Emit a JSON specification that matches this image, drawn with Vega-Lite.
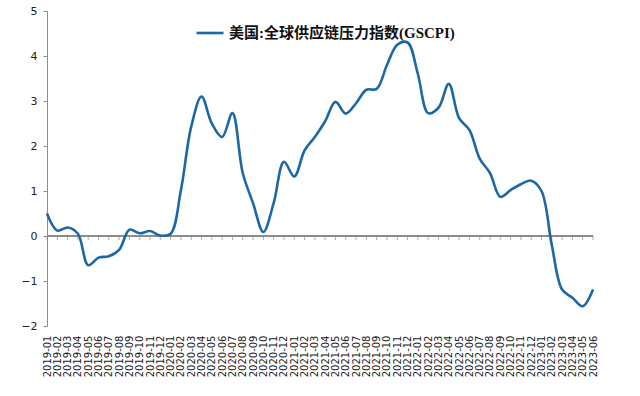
{
  "$schema": "https://vega.github.io/schema/vega-lite/v6.json",
  "width": 546,
  "height": 315,
  "autosize": "none",
  "padding": {"left": 47, "top": 11, "right": 47, "bottom": 70},
  "background": "white",
  "config": {"view": {"stroke": null}, "font": "DejaVu Sans"},
  "data": {
    "values": [
      {"month": "2019-01", "value": 0.5},
      {"month": "2019-02", "value": 0.12},
      {"month": "2019-03", "value": 0.19},
      {"month": "2019-04", "value": 0.05},
      {"month": "2019-05", "value": -0.65},
      {"month": "2019-06", "value": -0.48},
      {"month": "2019-07", "value": -0.45},
      {"month": "2019-08", "value": -0.31},
      {"month": "2019-09", "value": 0.14},
      {"month": "2019-10", "value": 0.06},
      {"month": "2019-11", "value": 0.11},
      {"month": "2019-12", "value": 0.01},
      {"month": "2020-01", "value": 0.05},
      {"month": "2020-02", "value": 1.02},
      {"month": "2020-03", "value": 2.43},
      {"month": "2020-04", "value": 3.1},
      {"month": "2020-05", "value": 2.5},
      {"month": "2020-06", "value": 2.2},
      {"month": "2020-07", "value": 2.73},
      {"month": "2020-08", "value": 1.4},
      {"month": "2020-09", "value": 0.73},
      {"month": "2020-10", "value": 0.09},
      {"month": "2020-11", "value": 0.73},
      {"month": "2020-12", "value": 1.65},
      {"month": "2021-01", "value": 1.32},
      {"month": "2021-02", "value": 1.9},
      {"month": "2021-03", "value": 2.2},
      {"month": "2021-04", "value": 2.55},
      {"month": "2021-05", "value": 2.98},
      {"month": "2021-06", "value": 2.72},
      {"month": "2021-07", "value": 2.95},
      {"month": "2021-08", "value": 3.25},
      {"month": "2021-09", "value": 3.27},
      {"month": "2021-10", "value": 3.8},
      {"month": "2021-11", "value": 4.25},
      {"month": "2021-12", "value": 4.3},
      {"month": "2022-01", "value": 3.6},
      {"month": "2022-02", "value": 2.73},
      {"month": "2022-03", "value": 2.85},
      {"month": "2022-04", "value": 3.38},
      {"month": "2022-05", "value": 2.62},
      {"month": "2022-06", "value": 2.36},
      {"month": "2022-07", "value": 1.72},
      {"month": "2022-08", "value": 1.4},
      {"month": "2022-09", "value": 0.87},
      {"month": "2022-10", "value": 1.02},
      {"month": "2022-11", "value": 1.15},
      {"month": "2022-12", "value": 1.23},
      {"month": "2023-01", "value": 1.0},
      {"month": "2023-02", "value": -0.2},
      {"month": "2023-03", "value": -1.19},
      {"month": "2023-04", "value": -1.37},
      {"month": "2023-05", "value": -1.56},
      {"month": "2023-06", "value": -1.19}
    ]
  },
  "layer": [
    {
      "mark": {"type": "rule", "color": "#8c8c8c", "strokeWidth": 1},
      "encoding": {
        "y": {"datum": 0, "type": "quantitative", "scale": {"domain": [-2, 5], "nice": false, "zero": false},
          "axis": {"title": null, "values": [-2, -1, 0, 1, 2, 3, 4, 5], "grid": false, "domainColor": "#8c8c8c", "tickColor": "#8c8c8c", "tickSize": 4, "labelFontSize": 11, "labelColor": "#222222", "labelPadding": 6, "labelFont": "DejaVu Sans"}}
      }
    },
    {
      "mark": {"type": "tick", "orient": "vertical", "size": 4, "thickness": 1, "color": "#8c8c8c", "yOffset": 2},
      "encoding": {
        "x": {"field": "month", "type": "ordinal", "scale": {"type": "point", "padding": 0},
          "axis": {"title": null, "domain": false, "ticks": false, "labelAngle": -90, "labelFontSize": 10, "labelPadding": 9, "labelColor": "#222222", "labelFont": "DejaVu Sans"}},
        "y": {"datum": 0, "type": "quantitative", "scale": {"domain": [-2, 5], "nice": false, "zero": false},
          "axis": {"title": null, "values": [-2, -1, 0, 1, 2, 3, 4, 5], "grid": false, "domainColor": "#8c8c8c", "tickColor": "#8c8c8c", "tickSize": 4, "labelFontSize": 11, "labelColor": "#222222", "labelPadding": 6, "labelFont": "DejaVu Sans"}}
      }
    },
    {
      "mark": {"type": "line", "interpolate": "catmull-rom", "strokeWidth": 2.6},
      "encoding": {
        "x": {"field": "month", "type": "ordinal", "scale": {"type": "point", "padding": 0},
          "axis": {"title": null, "domain": false, "ticks": false, "labelAngle": -90, "labelFontSize": 10, "labelPadding": 9, "labelColor": "#222222", "labelFont": "DejaVu Sans"}},
        "y": {"field": "value", "type": "quantitative", "scale": {"domain": [-2, 5], "nice": false, "zero": false},
          "axis": {"title": null, "values": [-2, -1, 0, 1, 2, 3, 4, 5], "grid": false, "domainColor": "#8c8c8c", "tickColor": "#8c8c8c", "tickSize": 4, "labelFontSize": 11, "labelColor": "#222222", "labelPadding": 6, "labelFont": "DejaVu Sans"}},
        "color": {"datum": "美国:全球供应链压力指数(GSCPI)", "type": "nominal",
          "scale": {"range": ["#1c68a6"]},
          "legend": {"title": null, "orient": "none", "legendX": 148, "legendY": 7, "padding": 0, "symbolType": "stroke", "symbolSize": 729, "symbolStrokeWidth": 2.6, "labelFont": "Liberation Serif, Noto Sans CJK SC", "labelFontSize": 15, "labelFontWeight": "bold", "labelColor": "#111111", "labelLimit": 400, "labelOffset": 4}}
      }
    }
  ]
}
